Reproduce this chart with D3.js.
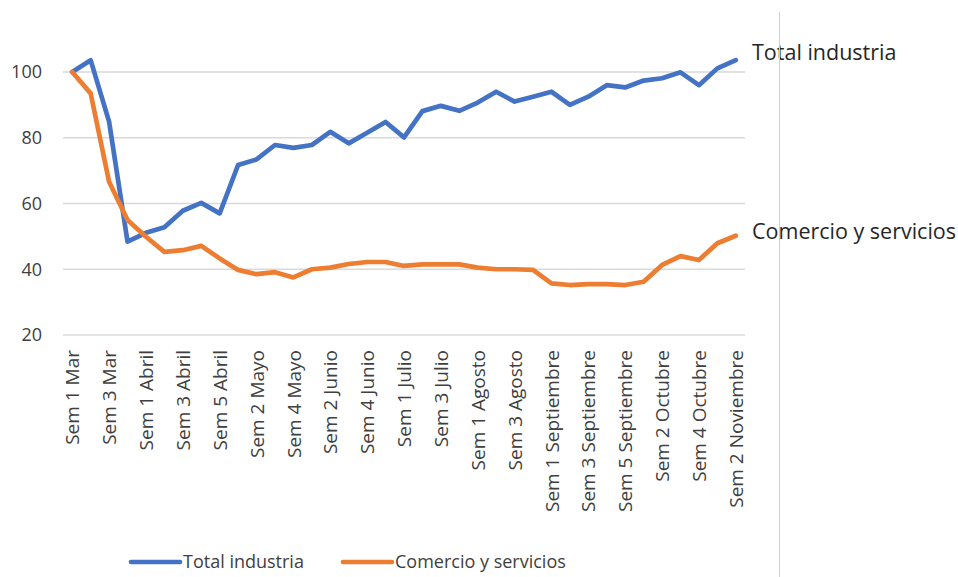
<!DOCTYPE html>
<html>
<head>
<meta charset="utf-8">
<script src="https://cdn.jsdelivr.net/npm/d3@7"></script>
<style>
  html, body { margin: 0; padding: 0; background: #fff; }
  svg { display: block; font-family: "Open Sans", Lato, sans-serif; }
</style>
</head>
<body>
<svg id="chart" width="958" height="577"></svg>
<script>
// Weekly index (Sem 1 Mar = 100)
const weeks = [
  "Sem 1 Mar", "Sem 2 Mar", "Sem 3 Mar", "Sem 4 Mar",
  "Sem 1 Abril", "Sem 2 Abril", "Sem 3 Abril", "Sem 4 Abril", "Sem 5 Abril",
  "Sem 1 Mayo", "Sem 2 Mayo", "Sem 3 Mayo", "Sem 4 Mayo",
  "Sem 1 Junio", "Sem 2 Junio", "Sem 3 Junio", "Sem 4 Junio", "Sem 5 Junio",
  "Sem 1 Julio", "Sem 2 Julio", "Sem 3 Julio", "Sem 4 Julio",
  "Sem 1 Agosto", "Sem 2 Agosto", "Sem 3 Agosto", "Sem 4 Agosto",
  "Sem 1 Septiembre", "Sem 2 Septiembre", "Sem 3 Septiembre", "Sem 4 Septiembre", "Sem 5 Septiembre",
  "Sem 1 Octubre", "Sem 2 Octubre", "Sem 3 Octubre", "Sem 4 Octubre",
  "Sem 1 Noviembre", "Sem 2 Noviembre"
];

const totalIndustria = [
  100, 103.6, 84.9, 48.4, 51.1, 52.8, 57.8, 60.2, 57.0,
  71.7, 73.4, 77.8, 76.9, 77.8, 81.8, 78.3, 81.5, 84.8,
  80.1, 88.1, 89.7, 88.2, 90.7, 94.0, 91.0, 92.5,
  94.0, 90.0, 92.5, 96.0, 95.3, 97.4, 98.1, 99.9, 96.0,
  101.1, 103.6
];

const comercioServicios = [
  100, 93.5, 66.6, 55.0, 49.9, 45.3, 45.8, 47.1, 43.3,
  39.8, 38.5, 39.1, 37.5, 40.0, 40.5, 41.6, 42.2, 42.2,
  41.0, 41.5, 41.5, 41.5, 40.5, 40.0, 40.0, 39.8,
  35.7, 35.2, 35.5, 35.5, 35.2, 36.2, 41.3, 44.0, 42.8,
  47.9, 50.2
];

const seriesNames = ["Total industria", "Comercio y servicios"];
const seriesColors = ["#4472C4", "#ED7D31"];
const yTicks = [20, 40, 60, 80, 100];

const svg = d3.select("#chart");
const margin = { left: 63, right: 745, top: 72, bottom: 335 };

const x = d3.scalePoint()
  .domain(weeks)
  .range([margin.left, margin.right])
  .padding(0.5);

const y = d3.scaleLinear()
  .domain([20, 100])
  .range([margin.bottom, margin.top]);

// Horizontal gridlines
svg.append("g")
  .selectAll("line")
  .data(yTicks)
  .join("line")
  .attr("x1", margin.left)
  .attr("x2", margin.right)
  .attr("y1", d => y(d))
  .attr("y2", d => y(d))
  .attr("stroke", "#d9d9d9")
  .attr("stroke-width", 1.5);

// Y axis labels
const yAxis = d3.axisLeft(y).tickValues(yTicks).tickSize(0).tickPadding(0);
const gy = svg.append("g")
  .attr("transform", `translate(${margin.left - 21},0)`)
  .call(yAxis);
gy.select(".domain").remove();
gy.selectAll("text")
  .attr("fill", "#404040")
  .style("font-size", "18px")
  .style("font-family", "'Open Sans', Lato, sans-serif");

// X axis labels: every other week, rotated
const xAxis = d3.axisBottom(x)
  .tickValues(weeks.filter((d, i) => i % 2 === 0))
  .tickSize(0);
const gx = svg.append("g")
  .attr("transform", `translate(0,${margin.bottom})`)
  .call(xAxis);
gx.select(".domain").remove();
gx.selectAll("text")
  .attr("transform", "rotate(-90)")
  .attr("text-anchor", "end")
  .attr("x", -15)
  .attr("y", 0)
  .attr("dy", "0.35em")
  .attr("fill", "#404040")
  .style("font-size", "19px")
  .style("font-family", "'Open Sans', Lato, sans-serif");

// Lines
const line = d3.line()
  .x((d, i) => x(weeks[i]))
  .y(d => y(d));

const allSeries = [totalIndustria, comercioServicios];
svg.append("g")
  .selectAll("path")
  .data(allSeries)
  .join("path")
  .attr("d", d => line(d))
  .attr("fill", "none")
  .attr("stroke", (d, i) => seriesColors[i])
  .attr("stroke-width", 4.7)
  .attr("stroke-linejoin", "round")
  .attr("stroke-linecap", "round");

// End-of-line labels
svg.append("g")
  .selectAll("text")
  .data(allSeries)
  .join("text")
  .attr("x", 752)
  .attr("y", (d, i) => i === 0 ? 52 : 231)
  .attr("dy", "0.35em")
  .attr("fill", "#262626")
  .style("font-size", "21.5px")
  .text((d, i) => seriesNames[i]);

// Vertical divider
svg.append("line")
  .attr("x1", 779.5).attr("x2", 779.5)
  .attr("y1", 12).attr("y2", 577)
  .attr("stroke", "#d0d0d0")
  .attr("stroke-width", 1);

// Legend
const legendItems = [
  { x: 131, name: seriesNames[0], color: seriesColors[0] },
  { x: 343, name: seriesNames[1], color: seriesColors[1] }
];
const lg = svg.append("g");
const li = lg.selectAll("g").data(legendItems).join("g")
  .attr("transform", d => `translate(${d.x},562)`);
li.append("line")
  .attr("x1", 0).attr("x2", 49)
  .attr("y1", 0).attr("y2", 0)
  .attr("stroke", d => d.color)
  .attr("stroke-width", 4.7)
  .attr("stroke-linecap", "round");
li.append("text")
  .attr("x", 52)
  .attr("dy", "0.35em")
  .attr("fill", "#404040")
  .style("font-size", "18px")
  .text(d => d.name);
</script>
</body>
</html>
